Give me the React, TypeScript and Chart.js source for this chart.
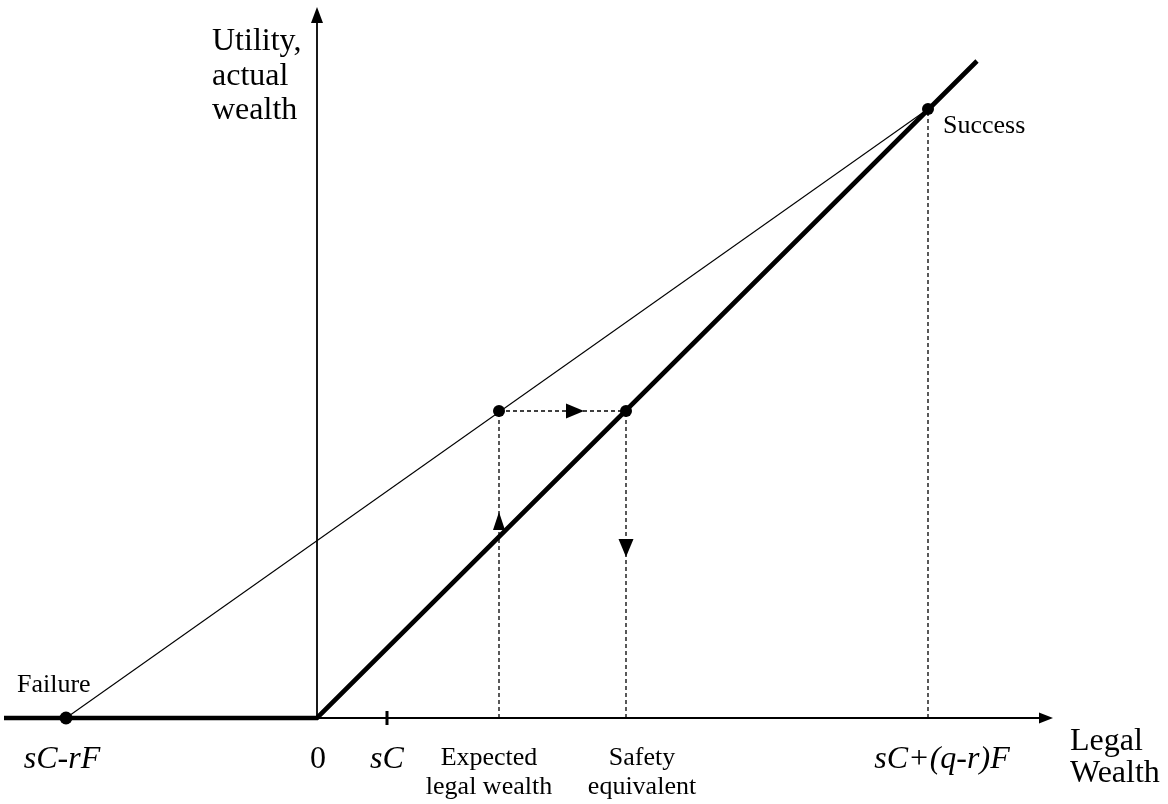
import React, { useEffect, useRef } from "react";
import { Chart, registerables } from "chart.js";

Chart.register(...registerables);

// Key points: legal wealth (x) and utility / actual wealth (y)
const pointNames = ["Failure", "Expected legal wealth", "Safety equivalent", "Success"];
const legalWealth = [-25.1, 18.2, 30.9, 61.1];
const utilityValues = [0, 30.7, 30.7, 60.9];
const sCValue = 7.0;

// Utility curve (kinked): flat at 0 for negative wealth, 45° above 0
const curveX = [-31.3, 0, 66.0];
const curveY = [0, 0, 65.7];

// Axes extents
const xAxisEnd = 73.6;
const yAxisEnd = 71.1;

// Arrow tips on the dashed guide lines
const rightArrowTipX = 26.7;
const upArrowTipY = 20.6;
const downArrowTipY = 16.1;

// Tick labels under the horizontal axis
const tickLabels = ["sC-rF", "0", "sC", "Expected|legal wealth", "Safety|equivalent", "sC+(q-r)F"];
const yAxisTitle = ["Utility,", "actual", "wealth"];
const xAxisTitle = ["Legal", "Wealth"];

const X_MIN = -31.7;
const X_MAX = 85.1;
const Y_MIN = -8.6;
const Y_MAX = 71.8;

const SERIF = '"Liberation Serif", "Times New Roman", serif';

export default function App() {
  const ref = useRef<HTMLCanvasElement | null>(null);

  useEffect(() => {
    const canvas = ref.current;
    if (!canvas) return;

    const [fX, eX, sX, uX] = legalWealth;
    const [fY, eY, sY, uY] = utilityValues;

    const seg = (ax: number, ay: number, bx: number, by: number) => [
      { x: ax, y: ay },
      { x: bx, y: by },
    ];

    const lineDs = (data: any[], width: number, dash: number[] = []) => ({
      type: "scatter" as const,
      data,
      showLine: true,
      borderColor: "#000",
      backgroundColor: "#000",
      borderWidth: width,
      borderDash: dash,
      pointRadius: 0,
      clip: false as any,
      borderCapStyle: "butt" as const,
    });

    const overlay = {
      id: "overlay",
      afterDatasetsDraw(chart: any) {
        const ctx = chart.ctx as CanvasRenderingContext2D;
        const xs = (v: number) => chart.scales.x.getPixelForValue(v);
        const ys = (v: number) => chart.scales.y.getPixelForValue(v);
        ctx.save();
        ctx.fillStyle = "#000";

        const tri = (tx: number, ty: number, dir: "up" | "down" | "right", len: number, w: number) => {
          ctx.beginPath();
          if (dir === "up") {
            ctx.moveTo(tx, ty);
            ctx.lineTo(tx - w / 2, ty + len);
            ctx.lineTo(tx + w / 2, ty + len);
          } else if (dir === "down") {
            ctx.moveTo(tx, ty);
            ctx.lineTo(tx - w / 2, ty - len);
            ctx.lineTo(tx + w / 2, ty - len);
          } else {
            ctx.moveTo(tx, ty);
            ctx.lineTo(tx - len, ty - w / 2);
            ctx.lineTo(tx - len, ty + w / 2);
          }
          ctx.closePath();
          ctx.fill();
        };

        const ox = xs(0);
        const oy = ys(0);
        // axis arrowheads
        tri(ox, ys(yAxisEnd), "up", 16, 12);
        tri(xs(xAxisEnd), oy, "right", 14, 11);
        // guide arrows
        tri(xs(rightArrowTipX), ys(eY), "right", 18, 15);
        tri(xs(eX), ys(upArrowTipY), "up", 18, 12);
        tri(xs(sX), ys(downArrowTipY), "down", 18, 15);

        // sC tick
        ctx.fillRect(xs(sCValue) - 1.5, oy - 7, 3, 14);

        ctx.textBaseline = "alphabetic";
        const txt = (s: string, x: number, y: number, size: number, align: CanvasTextAlign, italic = false) => {
          ctx.font = `${italic ? "italic " : ""}${size}px ${SERIF}`;
          ctx.textAlign = align;
          ctx.fillText(s, x, y);
        };

        // y axis title
        yAxisTitle.forEach((s, i) => txt(s, ox - 105, ys(yAxisEnd) + 43 + i * 34.5, 32, "left"));
        // x axis title
        xAxisTitle.forEach((s, i) => txt(s, xs(xAxisEnd) + 17, oy + 32 + i * 32, 32, "left"));

        // point labels
        txt(pointNames[0], xs(fX) - 49, oy - 26, 26, "left");
        txt(pointNames[3], xs(uX) + 15, ys(uY) + 24, 26, "left");

        // tick labels
        const tickXs = [xs(fX) - 4, ox + 1, xs(sCValue), xs(eX) - 10, xs(sX) + 16, xs(uX) + 14];
        tickLabels.forEach((lab, i) => {
          const lines = lab.split("|");
          if (lines.length === 1) {
            txt(lab, tickXs[i], oy + 50, 32, "center", i !== 1);
          } else {
            lines.forEach((l, j) => txt(l, tickXs[i], oy + 47 + j * 29, 26, "center"));
          }
        });
        ctx.restore();
      },
    };

    const chart = new Chart(canvas, {
      type: "scatter",
      data: {
        datasets: [
          // dashed guides
          lineDs(seg(eX, 0, eX, eY), 1.3, [4, 3]),
          lineDs(seg(sX, 0, sX, sY), 1.3, [4, 3]),
          lineDs(seg(uX, 0, uX, uY), 1.3, [4, 3]),
          lineDs(seg(eX, eY, sX, sY), 1.3, [4, 3]),
          // axes
          lineDs(seg(0, 0, 0, yAxisEnd - 1), 1.8),
          lineDs(seg(0, 0, xAxisEnd - 1, 0), 1.8),
          // chord between failure and success
          lineDs(seg(fX, fY, uX, uY), 1.1),
          // utility curve
          lineDs(curveX.map((x, i) => ({ x, y: curveY[i] })), 4.6),
          // points
          {
            type: "scatter" as const,
            data: legalWealth.map((x, i) => ({ x, y: utilityValues[i] })),
            showLine: false,
            pointRadius: [6.5, 6, 6, 6],
            pointBackgroundColor: "#000",
            pointBorderWidth: 0,
            clip: false as any,
          },
        ] as any,
      },
      options: {
        responsive: false,
        maintainAspectRatio: false,
        animation: false,
        layout: { padding: 0, autoPadding: false },
        plugins: { legend: { display: false }, tooltip: { enabled: false }, title: { display: false } },
        scales: {
          x: { type: "linear", min: X_MIN, max: X_MAX, display: false },
          y: { type: "linear", min: Y_MIN, max: Y_MAX, display: false },
        },
        events: [],
      },
      plugins: [overlay],
    });

    return () => chart.destroy();
  }, []);

  return (
    <div style={{ position: "absolute", left: 0, top: 0, width: 1168, height: 804, background: "#fff" }}>
      <canvas ref={ref} width={1168} height={804} style={{ display: "block", width: 1168, height: 804 }} />
    </div>
  );
}
